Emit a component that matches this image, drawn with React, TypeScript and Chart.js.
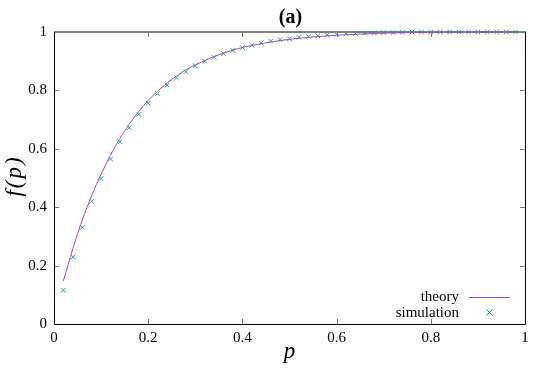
import React, { useEffect, useRef } from "react";
import { Chart, registerables } from "chart.js";

Chart.register(...registerables);

const xTicks = [0, 0.2, 0.4, 0.6, 0.8, 1];
const yTicks = [0, 0.2, 0.4, 0.6, 0.8, 1];

const pSimulation = [
  0.02, 0.04, 0.06, 0.08, 0.1, 0.12, 0.14, 0.16, 0.18, 0.2,
  0.22, 0.24, 0.26, 0.28, 0.3, 0.32, 0.34, 0.36, 0.38, 0.4,
  0.42, 0.44, 0.46, 0.48, 0.5, 0.52, 0.54, 0.56, 0.58, 0.6,
  0.62, 0.64, 0.66, 0.68, 0.7, 0.72, 0.74, 0.76, 0.78, 0.8,
  0.82, 0.84, 0.86, 0.88, 0.9, 0.92, 0.94, 0.96, 0.98,
];
const fSimulation = [
  0.116, 0.229, 0.331, 0.42, 0.498, 0.565, 0.624, 0.672, 0.718, 0.756,
  0.789, 0.818, 0.843, 0.864, 0.884, 0.9, 0.913, 0.926, 0.937, 0.947,
  0.955, 0.962, 0.969, 0.974, 0.977, 0.982, 0.985, 0.987, 0.99, 0.992,
  0.994, 0.995, 0.996, 0.997, 0.998, 0.998, 0.999, 1, 1, 1,
  1, 1, 1, 1, 1, 1, 1, 1, 1,
];

const pTheory = [
  0.02, 0.04, 0.06, 0.08, 0.1, 0.12, 0.14, 0.16, 0.18, 0.2,
  0.22, 0.24, 0.26, 0.28, 0.3, 0.32, 0.34, 0.36, 0.38, 0.4,
  0.45, 0.5, 0.55, 0.6, 0.65, 0.7, 0.75, 0.8, 0.9, 0.98,
];
const fTheory = [
  0.148, 0.258, 0.356, 0.44, 0.513, 0.578, 0.636, 0.685, 0.728, 0.766,
  0.797, 0.825, 0.849, 0.87, 0.887, 0.902, 0.916, 0.928, 0.938, 0.947,
  0.963, 0.975, 0.983, 0.989, 0.993, 0.996, 0.998, 0.999, 1, 1,
];

const titleText = "(a)";
const xLabel = "p";
const yLabel = "f(p)";
const legendLabels = ["theory", "simulation"];

const THEORY_COLOR = "#a842dc";
const SIM_COLOR = "#16a985";
const SERIF = "'Liberation Serif', 'Times New Roman', serif";

const framePlugin = {
  id: "gnuFrame",
  beforeDatasetsDraw(chart: any) {
    const { ctx, chartArea } = chart;
    const { left, right, top, bottom } = chartArea;
    const xs = chart.scales.x;
    const ys = chart.scales.y;
    ctx.save();
    ctx.strokeStyle = "#7a7a7a";
    ctx.lineWidth = 1;
    const tl = 5;
    ctx.beginPath();
    xTicks.forEach((v) => {
      const px = Math.round(xs.getPixelForValue(v)) + 0.5;
      ctx.moveTo(px, bottom);
      ctx.lineTo(px, bottom - tl);
      ctx.moveTo(px, top);
      ctx.lineTo(px, top + tl);
    });
    yTicks.forEach((v) => {
      const py = Math.round(ys.getPixelForValue(v)) + 0.5;
      ctx.moveTo(left, py);
      ctx.lineTo(left + tl, py);
      ctx.moveTo(right, py);
      ctx.lineTo(right - tl, py);
    });
    ctx.stroke();
    ctx.strokeStyle = "#7f7f7f";
    ctx.lineWidth = 2;
    ctx.beginPath();
    ctx.moveTo(left, top);
    ctx.lineTo(right + 1, top);
    ctx.stroke();
    ctx.strokeStyle = "#000";
    ctx.lineWidth = 1;
    ctx.beginPath();
    ctx.moveTo(left + 0.5, top);
    ctx.lineTo(left + 0.5, bottom + 0.5);
    ctx.lineTo(right + 0.5, bottom + 0.5);
    ctx.lineTo(right + 0.5, top);
    ctx.stroke();
    ctx.restore();
  },
  afterDraw(chart: any) {
    const { ctx, chartArea } = chart;
    ctx.save();
    ctx.fillStyle = "#000";
    ctx.font = `bold 20px ${SERIF}`;
    ctx.textAlign = "center";
    ctx.textBaseline = "middle";
    ctx.fillText(titleText, (chartArea.left + chartArea.right) / 2 + 1, 18);
    ctx.font = `italic 23px ${SERIF}`;
    ctx.fillText(xLabel, (chartArea.left + chartArea.right) / 2, 352);
    ctx.save();
    ctx.translate(15, 176);
    ctx.rotate(-Math.PI / 2);
    ctx.font = `italic 23px ${SERIF}`;
    (ctx as any).letterSpacing = "2px";
    ctx.fillText(yLabel, 0, 0);
    ctx.restore();
    ctx.font = `15px ${SERIF}`;
    ctx.textAlign = "right";
    ctx.textBaseline = "middle";
    ctx.fillText(legendLabels[0], 459, 297);
    ctx.fillText(legendLabels[1], 459, 313);
    ctx.strokeStyle = THEORY_COLOR;
    ctx.lineWidth = 1;
    ctx.beginPath();
    ctx.moveTo(469, 297.5);
    ctx.lineTo(510, 297.5);
    ctx.stroke();
    ctx.strokeStyle = SIM_COLOR;
    const cx = 489.5, cy = 312.5, r = 3;
    ctx.beginPath();
    ctx.moveTo(cx - r, cy - r);
    ctx.lineTo(cx + r, cy + r);
    ctx.moveTo(cx - r, cy + r);
    ctx.lineTo(cx + r, cy - r);
    ctx.stroke();
    ctx.restore();
  },
};

export default function App() {
  const ref = useRef<HTMLCanvasElement | null>(null);
  useEffect(() => {
    if (!ref.current) return;
    const chart = new Chart(ref.current, {
      type: "scatter",
      data: {
        datasets: [
          {
            label: legendLabels[0],
            data: pTheory.map((p, i) => ({ x: p, y: fTheory[i] })),
            showLine: true,
            borderColor: THEORY_COLOR,
            borderWidth: 1,
            pointRadius: 0,
            cubicInterpolationMode: "monotone",
            clip: false,
          } as any,
          {
            label: legendLabels[1],
            data: pSimulation.map((p, i) => ({ x: p, y: fSimulation[i] })),
            showLine: false,
            pointStyle: "crossRot",
            pointRadius: 3.2,
            borderColor: SIM_COLOR,
            backgroundColor: SIM_COLOR,
            pointBorderWidth: 1,
            clip: false,
          } as any,
        ],
      },
      options: {
        responsive: false,
        animation: false,
        devicePixelRatio: 1,
        layout: { padding: { left: 0, right: 20, top: 32, bottom: 0 } },
        plugins: {
          legend: { display: false },
          tooltip: { enabled: false },
          title: { display: false },
        },
        scales: {
          x: {
            type: "linear",
            min: 0,
            max: 1,
            grid: { display: false, drawTicks: false },
            border: { display: false },
            afterFit: (s: any) => {
              s.height = 58;
            },
            afterBuildTicks: (s: any) => {
              s.ticks = xTicks.map((v) => ({ value: v }));
            },
            ticks: {
              color: "#000",
              font: { family: SERIF, size: 15 },
              padding: 5,
              maxRotation: 0,
              callback: (v: any) => String(v),
            },
          },
          y: {
            type: "linear",
            min: 0,
            max: 1,
            grid: { display: false, drawTicks: false },
            border: { display: false },
            afterFit: (s: any) => {
              s.width = 54;
            },
            afterBuildTicks: (s: any) => {
              s.ticks = yTicks.map((v) => ({ value: v }));
            },
            ticks: {
              color: "#000",
              font: { family: SERIF, size: 15 },
              padding: 7,
              callback: (v: any) => String(v),
            },
          },
        },
      },
      plugins: [framePlugin],
    });
    return () => chart.destroy();
  }, []);
  return (
    <div style={{ position: "fixed", left: 0, top: 0, width: 545, height: 382, background: "#fff" }}>
      <canvas ref={ref} width={545} height={382} style={{ width: 545, height: 382, display: "block" }} />
    </div>
  );
}
